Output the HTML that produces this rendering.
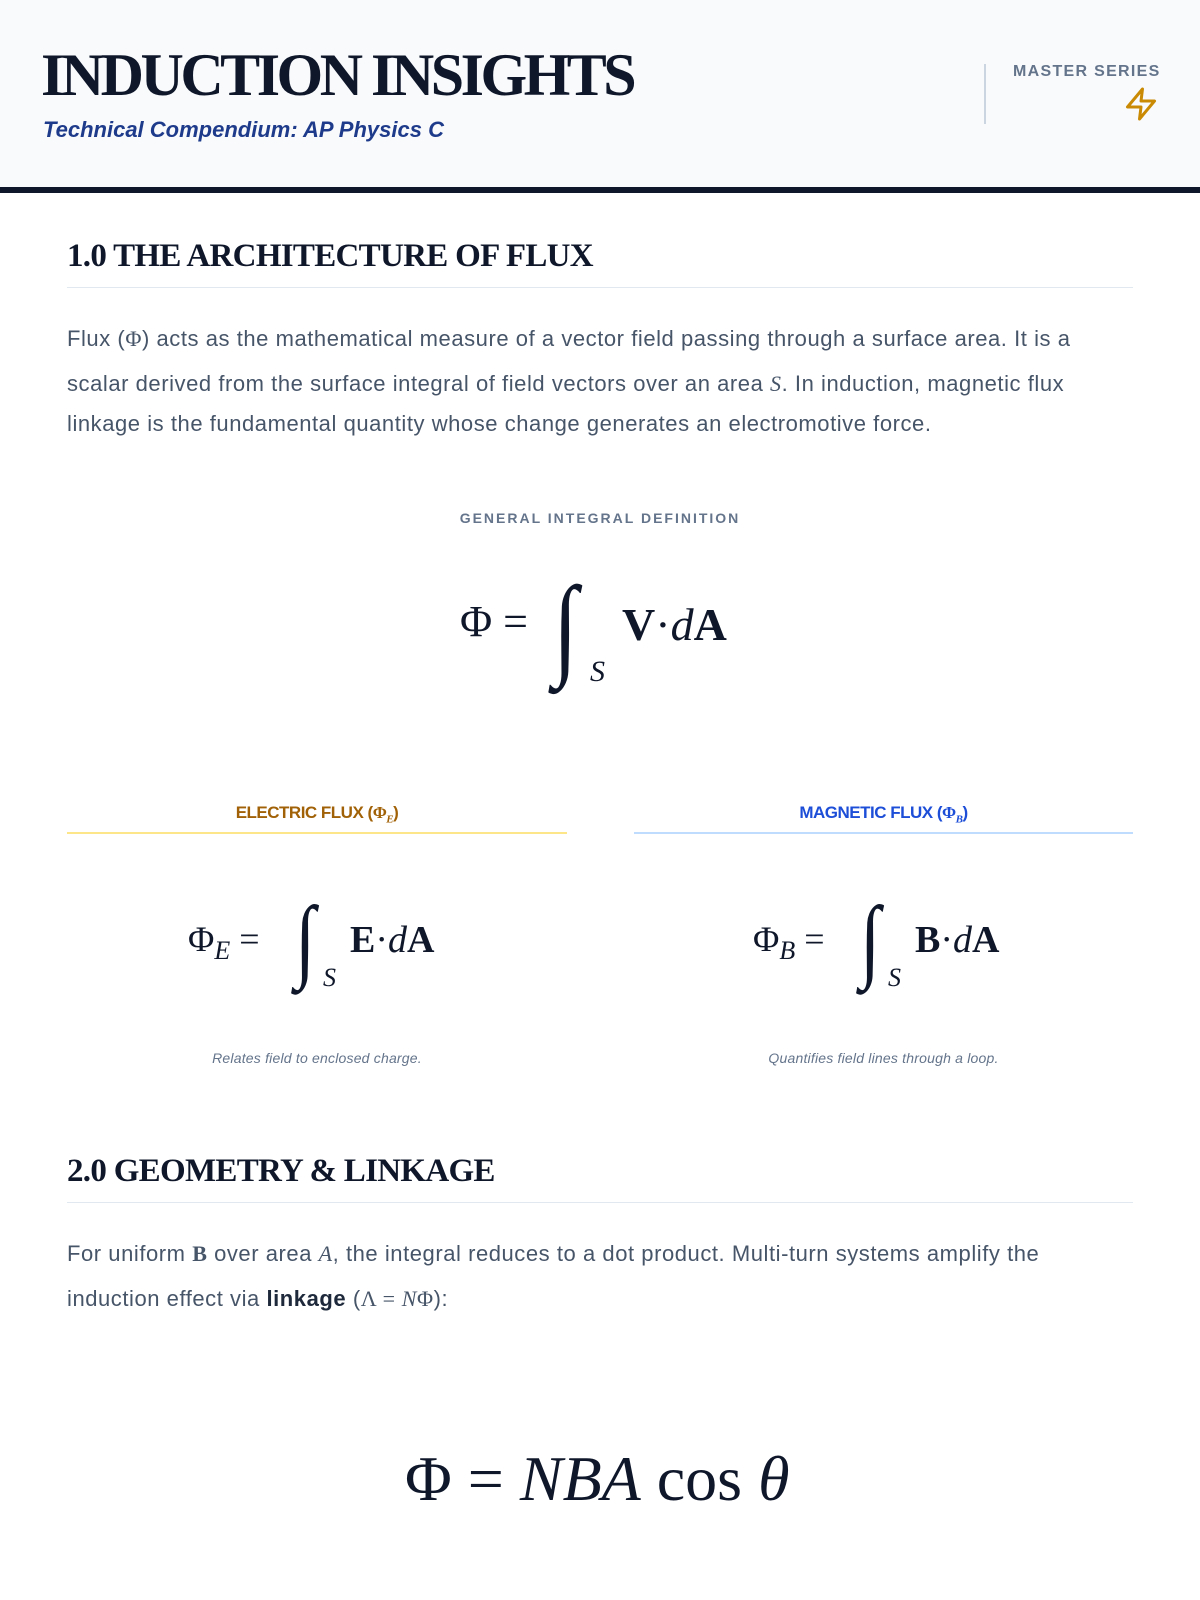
<!DOCTYPE html>
<html><head><meta charset="utf-8"><style>
*{margin:0;padding:0;box-sizing:border-box}
body{width:1200px;height:1600px;background:#fff;font-family:"Liberation Sans",sans-serif;position:relative;overflow:hidden;color:#0f172a}
.abs{position:absolute;white-space:nowrap}
.header{position:absolute;left:0;top:0;width:1200px;height:187px;background:#f8fafc}
.bar{position:absolute;left:0;top:187px;width:1200px;height:6px;background:#0f172a}
.title{left:41px;top:40px;font-family:"Liberation Serif",serif;font-weight:bold;font-size:60px;letter-spacing:-3.5px;color:#0f172a;line-height:70px}
.sub{left:43px;top:117px;font-style:italic;font-weight:bold;font-size:22px;color:#1e3a8a}
.h2{left:67px;font-family:"Liberation Serif",serif;font-weight:bold;font-size:33px;color:#0f172a;letter-spacing:-0.7px}
.rule{position:absolute;left:67px;width:1066px;height:1px;background:#e2e8f0}
.p{left:67px;font-size:22px;letter-spacing:0.55px;color:#475569;line-height:42px}
.m{font-family:"Liberation Serif",serif;font-style:italic}
.math{font-family:"Liberation Serif",serif;color:#0f172a}
.cap{font-style:italic;font-size:14px;letter-spacing:0.2px;color:#64748b}
</style></head><body>
<div class="header"></div><div class="bar"></div>
<div class="abs title">INDUCTION INSIGHTS</div>
<div class="abs sub">Technical Compendium: AP Physics C</div>
<div style="position:absolute;left:984px;top:64px;width:2px;height:60px;background:#cbd5e1"></div>
<div class="abs" style="left:1013px;top:63px;font-size:16px;font-weight:bold;color:#64748b;letter-spacing:1.3px">MASTER SERIES</div>
<svg class="abs" style="left:1123px;top:85px" width="36" height="38" viewBox="0 0 24 24"><path d="M13 2 L3 14 H12 L11 22 L21 10 H12 Z" fill="none" stroke="#ca8a04" stroke-width="2" stroke-linejoin="round"/></svg>

<div class="abs h2" style="top:238px">1.0 THE ARCHITECTURE OF FLUX</div>
<div class="rule" style="top:287px"></div>
<div class="abs p" style="top:318px">Flux (<span class="m" style="font-style:normal">Φ</span>) acts as the mathematical measure of a vector field passing through a surface area. It is a</div>
<div class="abs p" style="top:363px">scalar derived from the surface integral of field vectors over an area <span class="m">S</span>. In induction, magnetic flux</div>
<div class="abs p" style="top:403px">linkage is the fundamental quantity whose change generates an electromotive force.</div>

<div class="abs" style="left:0;width:1200px;text-align:center;top:510px;font-size:14px;font-weight:bold;color:#64748b;letter-spacing:2px">GENERAL INTEGRAL DEFINITION</div>
<div class="abs math" style="left:460px;top:596px;font-size:44px">Φ = </div>
<div class="abs math" style="left:553px;top:565px;font-size:90px;font-style:italic;line-height:100px;transform:scaleY(1.25);transform-origin:top">∫</div>
<div class="abs math" style="left:590px;top:655px;font-size:30px;font-style:italic">S</div>
<div class="abs math" style="left:622px;top:598px;font-size:46px"><b>V</b>·<i>d</i><b>A</b></div>

<div class="abs" style="left:67px;width:500px;text-align:center;top:803px;font-size:17px;font-weight:bold;color:#a16207;letter-spacing:-0.5px">ELECTRIC FLUX (<span class="m" style="font-style:normal">Φ<sub style="font-style:italic;font-size:11px">E</sub></span>)</div>
<div style="position:absolute;left:67px;top:832px;width:500px;height:2px;background:#fde68a"></div>
<div class="abs" style="left:634px;width:499px;text-align:center;top:803px;font-size:17px;font-weight:bold;color:#1d4ed8;letter-spacing:-0.5px">MAGNETIC FLUX (<span class="m" style="font-style:normal">Φ<sub style="font-style:italic;font-size:11px">B</sub></span>)</div>
<div style="position:absolute;left:634px;top:832px;width:499px;height:2px;background:#bfdbfe"></div>

<div class="abs math" style="left:188px;top:918px;font-size:36px">Φ<sub style="font-style:italic;font-size:26px">E</sub> = </div>
<div class="abs math" style="left:295px;top:885px;font-size:74px;font-style:italic;line-height:88px;transform:scaleY(1.25);transform-origin:top">∫</div>
<div class="abs math" style="left:323px;top:963px;font-size:26px;font-style:italic">S</div>
<div class="abs math" style="left:350px;top:918px;font-size:38px"><b>E</b>·<i>d</i><b>A</b></div>
<div class="abs math" style="left:753px;top:918px;font-size:36px">Φ<sub style="font-style:italic;font-size:26px">B</sub> = </div>
<div class="abs math" style="left:860px;top:885px;font-size:74px;font-style:italic;line-height:88px;transform:scaleY(1.25);transform-origin:top">∫</div>
<div class="abs math" style="left:888px;top:963px;font-size:26px;font-style:italic">S</div>
<div class="abs math" style="left:915px;top:918px;font-size:38px"><b>B</b>·<i>d</i><b>A</b></div>

<div class="abs cap" style="left:67px;width:500px;text-align:center;top:1050px">Relates field to enclosed charge.</div>
<div class="abs cap" style="left:634px;width:499px;text-align:center;top:1050px">Quantifies field lines through a loop.</div>

<div class="abs h2" style="top:1153px">2.0 GEOMETRY &amp; LINKAGE</div>
<div class="rule" style="top:1202px"></div>
<div class="abs p" style="top:1233px">For uniform <span class="m" style="font-style:normal;font-weight:bold">B</span> over area <span class="m">A</span>, the integral reduces to a dot product. Multi-turn systems amplify the</div>
<div class="abs p" style="top:1278px">induction effect via <b style="color:#1e293b">linkage</b> (<span class="m" style="font-style:normal">Λ = </span><span class="m">N</span><span class="m" style="font-style:normal">Φ</span>):</div>

<div class="abs math" style="left:405px;top:1442px;font-size:64px">Φ = <i>NBA</i> cos <i>θ</i></div>
</body></html>
